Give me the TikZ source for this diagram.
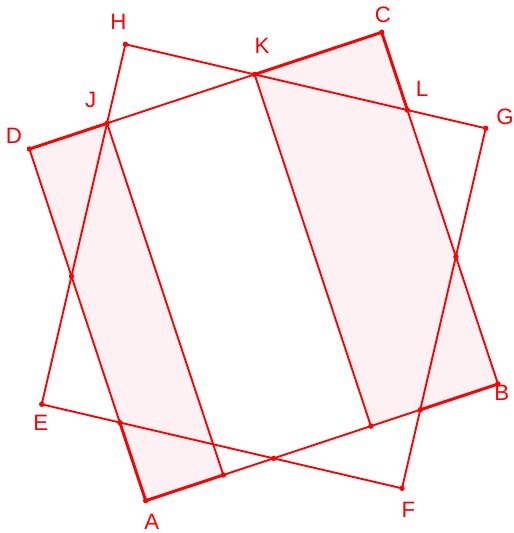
\documentclass[tikz,border=0pt]{standalone}
\usepackage{fontspec}
\setmainfont{Liberation Sans}
\usetikzlibrary{calc}
\definecolor{geored}{RGB}{255,0,0}
\definecolor{geofill}{RGB}{254,241,243}
\tikzset{
  edge/.style={geored, line width=1.6pt},
  bold edge/.style={geored, line width=2.5pt},
  pt/.style={fill=geored},
  lbl/.style={text=geored, font=\fontsize{19}{21}\selectfont, inner sep=0pt},
}

\begin{document}
\begin{tikzpicture}[x=0.03cm, y=-0.03cm]
\useasboundingbox (0,0) rectangle (514,533);
% square ABCD
\coordinate (A) at (145.7,500.7);
\coordinate (B) at (498,384);
\coordinate (C) at (381.7,32.3);
\coordinate (D) at ($(A)+(C)-(B)$);
% square EFGH
\coordinate (E) at (41.7,404.3);
\coordinate (F) at (402,488.3);
\coordinate (G) at (485.7,128.3);
\coordinate (H) at ($(E)+(G)-(F)$);
% crossings
\coordinate (J) at (intersection of D--C and E--H);
\coordinate (K) at (intersection of D--C and H--G);
\coordinate (L) at (intersection of C--B and H--G);
\coordinate (N) at (intersection of C--B and G--F);
\coordinate (Q) at (intersection of A--B and G--F);
\coordinate (S) at (intersection of A--B and E--F);
\coordinate (M) at (intersection of D--A and E--F);
\coordinate (T) at (intersection of D--A and E--H);
\coordinate (P) at ($(A)+(J)-(D)$);
\coordinate (R) at ($(B)+(K)-(C)$);
% shaded strips
\fill[geofill] (D) -- (J) -- (P) -- (A) -- cycle;
\fill[geofill] (K) -- (C) -- (B) -- (R) -- cycle;
% lines
\draw[edge] (A) -- (B) -- (C) -- (D) -- cycle;
\draw[edge] (E) -- (F) -- (G) -- (H) -- cycle;
\draw[edge] (J) -- (P);
\draw[edge] (K) -- (R);
\draw[bold edge] (D) -- (J);
\draw[bold edge] (K) -- (C) -- (L);
\draw[bold edge] (Q) -- (B);
\draw[bold edge] (M) -- (A) -- (P);
% points
\foreach \p in {A,B,C,D,E,F,G,H,J,K,L,M,N,P,Q,R,S,T}
  \fill[pt] (\p) circle (2.3pt);
% labels
\node[lbl] (lA) at (151.7,521.7) {A};
\node[lbl] (lB) at (501.7,393) {B};
\node[lbl] (lC) at (383,15) {C};
\node[lbl] (lD) at (14,136) {D};
\node[lbl] (lE) at (40.7,423) {E};
\node[lbl] (lF) at (408.3,510) {F};
\node[lbl] (lG) at (505,117) {G};
\node[lbl] (lH) at (118.3,22) {H};
\node[lbl] (lJ) at (90.7,100) {J};
\node[lbl] (lK) at (262,46) {K};
\node[lbl] (lL) at (422,89) {L};
\end{tikzpicture}
\end{document}
